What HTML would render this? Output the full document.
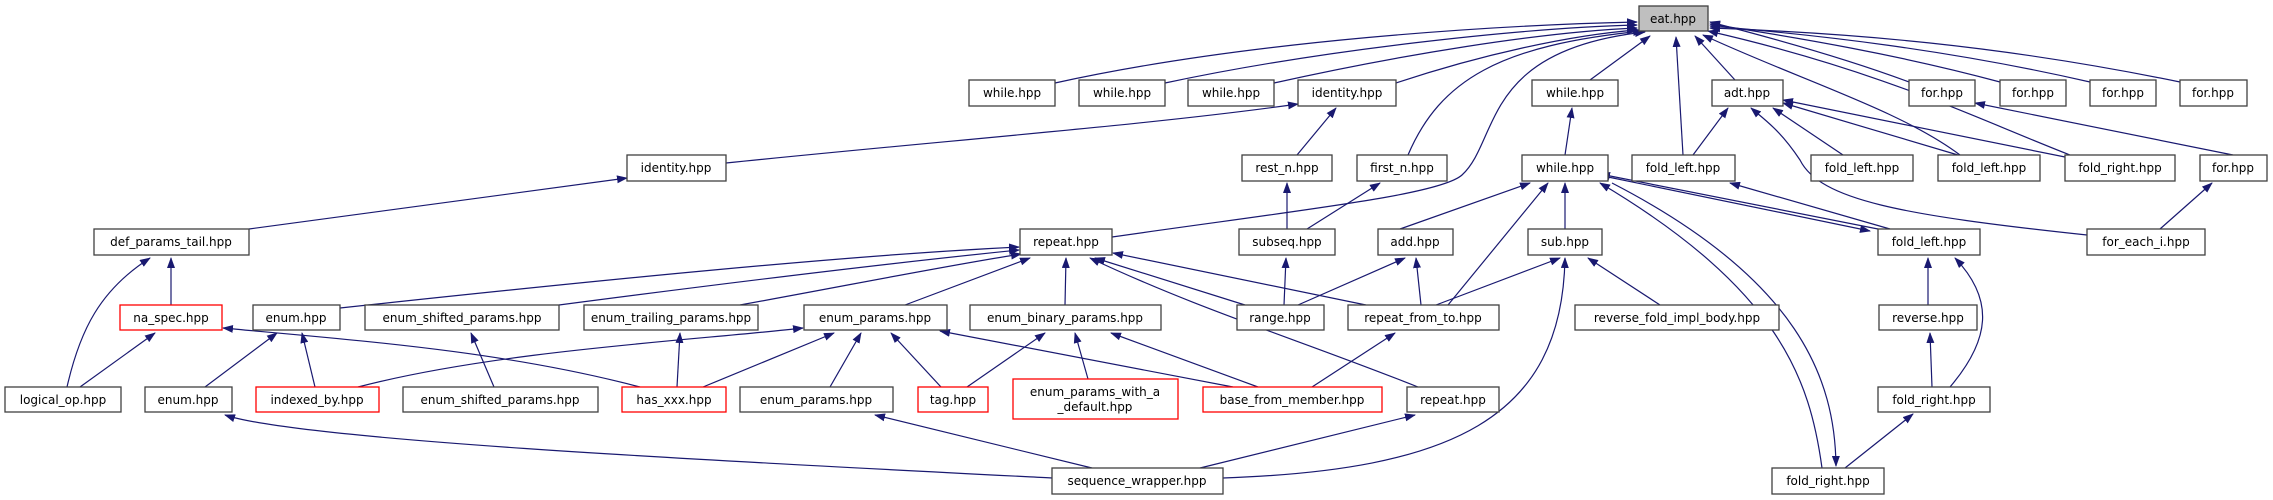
<!DOCTYPE html>
<html><head><meta charset="utf-8"><style>
html,body{margin:0;padding:0;background:#fff;}
svg{display:block;}
text{font-family:"DejaVu Sans","Liberation Sans",sans-serif;font-size:12px;fill:#000;text-anchor:middle;}
.n{fill:#fff;stroke:#404040;stroke-width:1.3;}
.r{fill:#fff;stroke:#ff0000;stroke-width:1.3;}
.e{fill:none;stroke:#191970;stroke-width:1.2;marker-end:url(#a);}
</style></head><body>
<svg width="2273" height="500" viewBox="0 0 2273 500" xmlns="http://www.w3.org/2000/svg">
<defs><marker id="a" markerWidth="11" markerHeight="8" refX="10" refY="4" orient="auto" markerUnits="userSpaceOnUse"><path d="M0,0 L11,4 L0,8 z" fill="#191970"/></marker></defs>
<g>
<!-- edges to eat -->
<path class="e" d="M1055,83 C1250,40 1500,25 1637,22"/>
<path class="e" d="M1165,83 C1320,50 1520,28 1637,25"/>
<path class="e" d="M1274,83 C1400,55 1540,32 1637,28"/>
<path class="e" d="M1396,83 C1480,55 1570,35 1637,30"/>
<path class="e" d="M1408,155 C1440,80 1500,45 1643,31"/>
<path class="e" d="M1112,237 C1300,210 1440,195 1462,175 C1500,140 1480,50 1645,32"/>
<path class="e" d="M1590,80 L1650,36"/>
<path class="e" d="M1683,155 L1676,37"/>
<path class="e" d="M1735,80 L1695,36"/>
<path class="e" d="M1960,155 C1900,110 1800,80 1703,35"/>
<path class="e" d="M2070,155 C1980,120 1880,70 1708,31"/>
<path class="e" d="M1909,82 C1850,60 1780,40 1710,22"/>
<path class="e" d="M2000,82 C1900,55 1800,38 1710,24"/>
<path class="e" d="M2090,82 C1950,50 1820,35 1710,26"/>
<path class="e" d="M2180,82 C2000,45 1850,33 1710,28"/>
<!-- identity -->
<path class="e" d="M726,163 C950,140 1150,125 1298,104"/>
<path class="e" d="M1297,155 L1336,108"/>
<path class="e" d="M249,229 L627,178"/>
<path class="e" d="M1287,229 L1287,183"/>
<path class="e" d="M1307,229 L1380,183"/>
<path class="e" d="M1565,155 L1572,108"/>
<!-- adt -->
<path class="e" d="M1693,155 L1728,108"/>
<path class="e" d="M1843,155 L1773,108"/>
<path class="e" d="M1958,155 L1783,103"/>
<path class="e" d="M2065,157 L1783,100"/>
<path class="e" d="M2087,235 C1900,215 1820,200 1800,160 C1780,130 1765,120 1751,108"/>
<path class="e" d="M2233,155 L1975,103"/>
<path class="e" d="M2160,229 L2212,183"/>
<!-- whileC -->
<path class="e" d="M1400,229 L1530,183"/>
<path class="e" d="M1565,229 L1565,183"/>
<path class="e" d="M1448,305 L1548,183"/>
<path class="e" d="M1878,229 L1600,174"/>
<path class="e" d="M1608,177 L1870,231"/>
<path class="e" d="M1822,468 C1810,380 1780,290 1600,183"/>
<path class="e" d="M1612,183 C1800,280 1835,380 1836,466"/>
<path class="e" d="M1890,229 L1730,183"/>
<path class="e" d="M1928,305 L1928,258"/>
<path class="e" d="M1950,387 C1990,340 1995,300 1955,258"/>
<path class="e" d="M1932,387 L1930,333"/>
<path class="e" d="M1845,468 L1913,414"/>
<!-- sub/add -->
<path class="e" d="M1660,305 L1588,258"/>
<path class="e" d="M1223,478 C1450,470 1562,420 1565,258"/>
<path class="e" d="M1436,305 L1560,258"/>
<path class="e" d="M1298,305 L1405,258"/>
<path class="e" d="M1421,305 L1416,258"/>
<path class="e" d="M1284,305 L1286,258"/>
<!-- repeat -->
<path class="e" d="M340,308 C600,280 850,255 1019,247"/>
<path class="e" d="M559,305 C750,280 900,262 1019,250"/>
<path class="e" d="M740,305 C850,285 950,265 1021,254"/>
<path class="e" d="M905,305 L1030,258"/>
<path class="e" d="M1065,305 L1066,258"/>
<path class="e" d="M1245,305 L1095,258"/>
<path class="e" d="M1366,305 L1113,253"/>
<path class="e" d="M1418,387 C1300,340 1200,310 1090,258"/>
<!-- left -->
<path class="e" d="M171,305 L171,258"/>
<path class="e" d="M67,387 C80,330 100,290 150,258"/>
<path class="e" d="M80,387 L155,333"/>
<path class="e" d="M640,387 C500,350 350,340 223,328"/>
<path class="e" d="M205,387 L277,333"/>
<path class="e" d="M315,387 L302,333"/>
<path class="e" d="M494,387 L471,333"/>
<path class="e" d="M677,387 L680,333"/>
<path class="e" d="M358,387 C500,350 700,340 803,328"/>
<path class="e" d="M703,387 L834,333"/>
<path class="e" d="M830,387 L861,333"/>
<path class="e" d="M941,387 L891,333"/>
<path class="e" d="M1233,387 L940,331"/>
<path class="e" d="M967,387 L1045,333"/>
<path class="e" d="M1088,379 L1075,333"/>
<path class="e" d="M1258,387 L1111,333"/>
<path class="e" d="M1312,387 L1395,333"/>
<path class="e" d="M1052,478 C700,460 300,440 225,415"/>
<path class="e" d="M1092,468 L875,415"/>
<path class="e" d="M1200,468 L1415,415"/>
</g>
<g>
<rect x="1639" y="6" width="69" height="25" fill="#bfbfbf" stroke="#404040" stroke-width="1.3"/><text x="1673" y="23">eat.hpp</text>

<rect class="n" x="969" y="80" width="86" height="26"/><text x="1012" y="97">while.hpp</text>
<rect class="n" x="1079" y="80" width="86" height="26"/><text x="1122" y="97">while.hpp</text>
<rect class="n" x="1188" y="80" width="86" height="26"/><text x="1231" y="97">while.hpp</text>
<rect class="n" x="1298" y="80" width="98" height="26"/><text x="1347" y="97">identity.hpp</text>
<rect class="n" x="1532" y="80" width="86" height="26"/><text x="1575" y="97">while.hpp</text>
<rect class="n" x="1712" y="80" width="71" height="26"/><text x="1747" y="97">adt.hpp</text>
<rect class="n" x="1909" y="80" width="66" height="26"/><text x="1942" y="97">for.hpp</text>
<rect class="n" x="2000" y="80" width="66" height="26"/><text x="2033" y="97">for.hpp</text>
<rect class="n" x="2090" y="80" width="66" height="26"/><text x="2123" y="97">for.hpp</text>
<rect class="n" x="2180" y="80" width="67" height="26"/><text x="2213" y="97">for.hpp</text>

<rect class="n" x="627" y="155" width="99" height="26"/><text x="676" y="172">identity.hpp</text>
<rect class="n" x="1242" y="155" width="90" height="26"/><text x="1287" y="172">rest_n.hpp</text>
<rect class="n" x="1357" y="155" width="90" height="26"/><text x="1402" y="172">first_n.hpp</text>
<rect class="n" x="1522" y="155" width="86" height="26"/><text x="1565" y="172">while.hpp</text>
<rect class="n" x="1632" y="155" width="103" height="26"/><text x="1683" y="172">fold_left.hpp</text>
<rect class="n" x="1811" y="155" width="102" height="26"/><text x="1862" y="172">fold_left.hpp</text>
<rect class="n" x="1938" y="155" width="102" height="26"/><text x="1989" y="172">fold_left.hpp</text>
<rect class="n" x="2065" y="155" width="110" height="26"/><text x="2120" y="172">fold_right.hpp</text>
<rect class="n" x="2200" y="155" width="67" height="26"/><text x="2233" y="172">for.hpp</text>

<rect class="n" x="94" y="229" width="155" height="26"/><text x="171" y="246">def_params_tail.hpp</text>
<rect class="n" x="1020" y="229" width="92" height="26"/><text x="1066" y="246">repeat.hpp</text>
<rect class="n" x="1239" y="229" width="96" height="26"/><text x="1287" y="246">subseq.hpp</text>
<rect class="n" x="1378" y="229" width="75" height="26"/><text x="1415" y="246">add.hpp</text>
<rect class="n" x="1528" y="229" width="74" height="26"/><text x="1565" y="246">sub.hpp</text>
<rect class="n" x="1878" y="229" width="102" height="26"/><text x="1929" y="246">fold_left.hpp</text>
<rect class="n" x="2087" y="229" width="118" height="26"/><text x="2146" y="246">for_each_i.hpp</text>

<rect class="r" x="120" y="305" width="102" height="25"/><text x="171" y="322">na_spec.hpp</text>
<rect class="n" x="253" y="305" width="87" height="25"/><text x="296" y="322">enum.hpp</text>
<rect class="n" x="365" y="305" width="194" height="25"/><text x="462" y="322">enum_shifted_params.hpp</text>
<rect class="n" x="584" y="305" width="174" height="25"/><text x="671" y="322">enum_trailing_params.hpp</text>
<rect class="n" x="804" y="305" width="143" height="25"/><text x="875" y="322">enum_params.hpp</text>
<rect class="n" x="970" y="305" width="191" height="25"/><text x="1065" y="322">enum_binary_params.hpp</text>
<rect class="n" x="1237" y="305" width="87" height="25"/><text x="1280" y="322">range.hpp</text>
<rect class="n" x="1348" y="305" width="151" height="25"/><text x="1423" y="322">repeat_from_to.hpp</text>
<rect class="n" x="1575" y="305" width="204" height="25"/><text x="1677" y="322">reverse_fold_impl_body.hpp</text>
<rect class="n" x="1879" y="305" width="98" height="25"/><text x="1928" y="322">reverse.hpp</text>

<rect class="n" x="5" y="387" width="116" height="25"/><text x="63" y="404">logical_op.hpp</text>
<rect class="n" x="145" y="387" width="87" height="25"/><text x="188" y="404">enum.hpp</text>
<rect class="r" x="256" y="387" width="123" height="25"/><text x="317" y="404">indexed_by.hpp</text>
<rect class="n" x="403" y="387" width="195" height="25"/><text x="500" y="404">enum_shifted_params.hpp</text>
<rect class="r" x="622" y="387" width="104" height="25"/><text x="674" y="404">has_xxx.hpp</text>
<rect class="n" x="740" y="387" width="153" height="25"/><text x="816" y="404">enum_params.hpp</text>
<rect class="r" x="918" y="387" width="70" height="25"/><text x="953" y="404">tag.hpp</text>
<rect class="r" x="1013" y="379" width="165" height="40"/><text x="1095" y="396">enum_params_with_a</text><text x="1095" y="411">_default.hpp</text>
<rect class="r" x="1203" y="387" width="179" height="25"/><text x="1292" y="404">base_from_member.hpp</text>
<rect class="n" x="1407" y="387" width="92" height="25"/><text x="1453" y="404">repeat.hpp</text>
<rect class="n" x="1878" y="387" width="112" height="25"/><text x="1934" y="404">fold_right.hpp</text>

<rect class="n" x="1052" y="468" width="171" height="26"/><text x="1137" y="485">sequence_wrapper.hpp</text>
<rect class="n" x="1772" y="468" width="112" height="26"/><text x="1828" y="485">fold_right.hpp</text>
</g>
</svg>
</body></html>
